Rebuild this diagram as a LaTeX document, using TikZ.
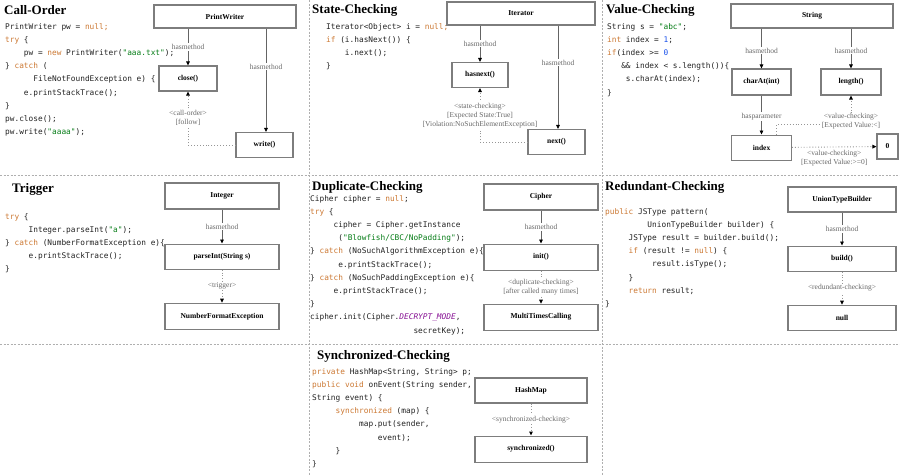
\documentclass[tikz,border=0pt]{standalone}
\usepackage{fontspec}
\setmainfont{Liberation Serif}
\setmonofont{DejaVu Sans Mono}
\usepackage{tikz}
\usetikzlibrary{arrows.meta,positioning,calc}
\definecolor{kword}{RGB}{204,120,50}
\definecolor{sgreen}{RGB}{6,125,23}
\definecolor{nblue}{RGB}{23,80,235}
\definecolor{cpurple}{RGB}{135,16,148}
\definecolor{codetext}{RGB}{35,35,35}
\definecolor{boxline}{RGB}{125,125,125}
\definecolor{arrline}{RGB}{100,100,100}
\definecolor{dotline}{RGB}{150,150,150}
\definecolor{labtext}{RGB}{105,105,105}
\definecolor{sepline}{RGB}{175,175,175}
\newcommand{\jkw}[1]{\textcolor{kword}{#1}}
\newcommand{\jstr}[1]{\textcolor{sgreen}{#1}}
\newcommand{\jnum}[1]{\textcolor{nblue}{#1}}
\newcommand{\jconst}[1]{\textcolor{cpurple}{\itshape #1}}
\newcommand{\cind}[1]{\hspace*{#1\fontcharwd\font`0}}
\frenchspacing

\begin{document}
\begin{tikzpicture}[x=1pt,y=1pt,>=Latex,
  every node/.style={align=center},
  cls/.style={draw=boxline,line width=1.1pt,minimum height=25pt,inner sep=2pt,
    font=\bfseries\fontsize{7.5}{9}\selectfont},
  has/.style={draw=arrline,line width=0.8pt,-{Triangle[length=4pt,width=3.6pt,color=black]}},
  chk/.style={draw=dotline,line width=0.9pt,dotted,-{Triangle[length=4pt,width=3.6pt,color=black]}},
  lbl/.style={fill=white,text=labtext,inner sep=1pt,font=\fontsize{7.5}{9}\selectfont},
  code/.style={anchor=north west,align=left,inner sep=0pt,text=codetext,
    font=\fontsize{7.8}{13.2}\ttfamily},
  ttl/.style={anchor=base west,inner sep=0pt,font=\bfseries\fontsize{13}{15}\selectfont},
  sep/.style={draw=sepline,line width=0.8pt,dash pattern=on 2pt off 1.5pt}]
  \fill[white] (0,0) rectangle (900,-475);
  \useasboundingbox (0,0) rectangle (900,-475);
  % panel borders
  \draw[sep] (309,0) -- (309,-475);
  \draw[sep] (602,0) -- (602,-475);
  \draw[sep] (0,-175) -- (900,-175);
  \draw[sep] (0,-344) -- (900,-344);

  % Call-Order
  \node[ttl] (t1) at (4,-14) {Call-Order};
  \node[code] (c1) at (5,-23) {
    PrintWriter pw = \jkw{null;}\\
    \jkw{try} \{\\
    \cind{4}pw = \jkw{new} PrintWriter(\jstr{"aaa.txt"});\\
    \} \jkw{catch} (\\
    \cind{6}FileNotFoundException e) \{\\
    \cind{4}e.printStackTrace();\\
    \}\\
    pw.close();\\
    pw.write(\jstr{"aaaa"});};
  \node[cls,minimum width=142pt,minimum height=23pt] (pw) at (225,-16.5) {PrintWriter};
  \node[cls,minimum width=58pt] (close) at (188,-78.5) {close()};
  \node[cls,minimum width=57pt] (write) at (264.5,-145) {write()};
  \draw[has] (close.north |- pw.south) -- node[lbl]{hasmethod} (close.north);
  \draw[has] ([xshift=1.5pt]write.north |- pw.south) -- node[lbl,pos=0.37]{hasmethod} ([xshift=1.5pt]write.north);
  \draw[chk] (write.west) -| node[lbl,pos=0.75]{<call-order>\\{}[follow]} (close.south);

  % State-Checking
  \node[ttl] (t2) at (312,-13.5) {State-Checking};
  \node[code] (c2) at (326,-23) {
    Iterator<Object> i = \jkw{null;}\\
    \jkw{if} (i.hasNext()) \{\\
    \cind{4}i.next();\\
    \}};
  \node[cls,minimum width=148pt,minimum height=23pt] (iter) at (521,-13.5) {Iterator};
  \node[cls,minimum width=56pt] (hasnext) at (480,-75) {hasnext()};
  \node[cls,minimum width=57pt] (next) at (556.5,-142) {next()};
  \draw[has] (hasnext.north |- iter.south) -- node[lbl]{hasmethod} (hasnext.north);
  \draw[has] ([xshift=1.5pt]next.north |- iter.south) -- node[lbl,pos=0.36]{hasmethod} ([xshift=1.5pt]next.north);
  \draw[chk] (next.west) -| node[lbl,pos=0.745]{<state-checking>\\{}[Expected State:True]\\{}[Violation:NoSuchElementException]} (hasnext.south);

  % Value-Checking
  \node[ttl] (t3) at (606,-13.5) {Value-Checking};
  \node[code] (c3) at (607,-23) {
    String s = \jstr{"abc"};\\
    \jkw{int} index = \jnum{1};\\
    \jkw{if}(index >= \jnum{0}\\
    \cind{3}\&\& index < s.length())\{\\
    \cind{4}s.charAt(index);\\
    \}};
  \node[cls,minimum width=162pt,minimum height=24pt] (str) at (812,-16) {String};
  \node[cls,minimum width=59pt,minimum height=26pt] (charat) at (761.5,-82) {charAt(int)};
  \node[cls,minimum width=60pt,minimum height=26pt] (length) at (851,-82) {length()};
  \node[cls,minimum width=60pt,below=39pt of charat] (index) {index};
  \node[cls,minimum width=21pt] (zero) at (887.5,-146.5) {0};
  \draw[has] (charat.north |- str.south) -- node[lbl,pos=0.55]{hasmethod} (charat.north);
  \draw[has] (length.north |- str.south) -- node[lbl,pos=0.55]{hasmethod} (length.north);
  \draw[has] (charat) -- node[lbl,pos=0.54]{hasparameter} (index);
  \draw[chk] ([xshift=15pt]index.north) -- ++(0,10) -| node[lbl,pos=0.55]{<value-checking>\\{}[Expected Value:<]} (length.south);
  \draw[chk] (index) -- node[below=1.5pt,text=labtext,inner sep=1pt,font=\fontsize{7.5}{9}\selectfont]{<value-checking>\\{}[Expected Value:>=0]} (zero);

  % Trigger
  \node[ttl] (t4) at (12,-192) {Trigger};
  \node[code] (c4) at (5,-213) {
    \jkw{try} \{\\
    \cind{5}Integer.parseInt(\jstr{"a"});\\
    \} \jkw{catch} (NumberFormatException e)\{\\
    \cind{5}e.printStackTrace();\\
    \}};
  \node[cls,minimum width=114pt,minimum height=26pt] (integer) at (222,-196) {Integer};
  \node[cls,minimum width=114pt,below=34pt of integer] (parse) {parseInt(String s)};
  \node[cls,minimum width=114pt,minimum height=26pt,below=33pt of parse] (nfe) {NumberFormatException};
  \draw[has] (integer) -- node[lbl]{hasmethod} (parse);
  \draw[chk] (parse) -- node[lbl]{<trigger>} (nfe);

  % Duplicate-Checking
  \node[ttl] (t5) at (312,-190) {Duplicate-Checking};
  \node[code] (c5) at (310,-195) {
    Cipher cipher = \jkw{null};\\
    \jkw{try} \{\\
    \cind{5}cipher = Cipher.getInstance\\
    \cind{6}(\jstr{"Blowfish/CBC/NoPadding"});\\
    \} \jkw{catch} (NoSuchAlgorithmException e)\{\\
    \cind{6}e.printStackTrace();\\
    \} \jkw{catch} (NoSuchPaddingException e)\{\\
    \cind{5}e.printStackTrace();\\
    \}\\
    cipher.init(Cipher.\jconst{DECRYPT\_MODE},\\
    \cind{22}secretKey);};
  \node[cls,minimum width=114pt,minimum height=26pt] (cipher) at (541,-197) {Cipher};
  \node[cls,minimum width=114pt,minimum height=26pt,below=33pt of cipher] (init) {init()};
  \node[cls,minimum width=114pt,minimum height=26pt,below=33pt of init] (multi) {MultiTimesCalling};
  \draw[has] (cipher) -- node[lbl]{hasmethod} (init);
  \draw[chk] (init) -- node[lbl]{<duplicate-checking>\\{}[after called many times]} (multi);

  % Redundant-Checking
  \node[ttl] (t6) at (605,-190.5) {Redundant-Checking};
  \node[code] (c6) at (605,-208) {
    \jkw{public} JSType pattern(\\
    \cind{9}UnionTypeBuilder builder) \{\\
    \cind{5}JSType result = builder.build();\\
    \cind{5}\jkw{if} (result != \jkw{null}) \{\\
    \cind{10}result.isType();\\
    \cind{5}\}\\
    \cind{5}\jkw{return} result;\\
    \}};
  \node[cls,minimum width=108pt] (builder) at (842,-199.5) {UnionTypeBuilder};
  \node[cls,minimum width=108pt,below=33pt of builder] (build) {build()};
  \node[cls,minimum width=108pt,below=33pt of build] (nullres) {null};
  \draw[has] (builder) -- node[lbl]{hasmethod} (build);
  \draw[chk] (build) -- node[lbl]{<redundant-checking>} (nullres);

  % Synchronized-Checking
  \node[ttl] (t7) at (317,-359) {Synchronized-Checking};
  \node[code] (c7) at (312,-368) {
    \jkw{private} HashMap<String, String> p;\\
    \jkw{public void} onEvent(String sender,\\
    String event) \{\\
    \cind{5}\jkw{synchronized} (map) \{\\
    \cind{10}map.put(sender,\\
    \cind{14}event);\\
    \cind{5}\}\\
    \}};
  \node[cls,minimum width=112pt] (hashmap) at (531,-390.5) {HashMap};
  \node[cls,minimum width=112pt,minimum height=26pt,below=32pt of hashmap] (sync) {synchronized()};
  \draw[chk] (hashmap) -- node[lbl]{<synchronized-checking>} (sync);
\end{tikzpicture}
\end{document}
